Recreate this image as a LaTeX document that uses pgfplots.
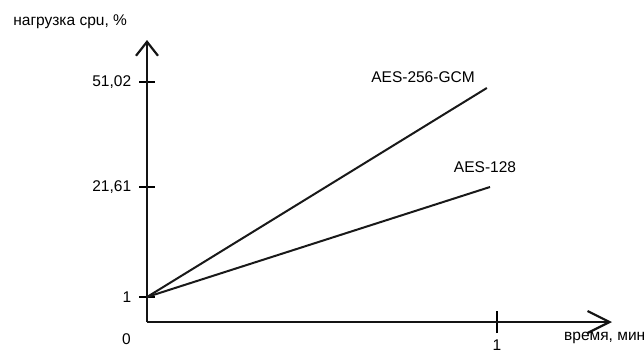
\documentclass[border=0pt]{standalone}
\usepackage{fontspec}
\setmainfont{Liberation Sans}
\usepackage{pgfplots}
\pgfplotsset{compat=1.18}
\usetikzlibrary{arrows.meta}
\begin{document}
\fontsize{15.5}{18}\selectfont
\begin{tikzpicture}
\useasboundingbox (-147pt,-32pt) rectangle (497pt,322pt);
\begin{axis}[
  at={(0,0)}, anchor=south west,
  scale only axis, width=465pt, height=282pt,
  xmin=0, xmax=1.3286, ymin=0, ymax=62.78,
  y coord trafo/.code={\pgfmathparse{ifthenelse(#1<=1, #1*25, ifthenelse(#1<=21.61, 25+(#1-1)*110/20.61, 135+(#1-21.61)*105/29.41))}},
  y coord inv trafo/.code={\pgfmathparse{ifthenelse(#1<=25, #1/25, ifthenelse(#1<=135, 1+(#1-25)*20.61/110, 21.61+(#1-135)*29.41/105))}},
  axis lines=left,
  x axis line style={line width=2.2pt, color=black!92, -{Straight Barb[length=22pt,width=22pt,line width=2.2pt]}},
  y axis line style={line width=2.2pt, color=black!92, -{Straight Barb[length=14pt,width=22pt,line width=2.2pt]}},
  ytick={1,21.61,51.02}, yticklabels={1,{21,61},{51,02}},
  xtick={1}, xticklabels={1},
  tick align=center, major tick length=15pt,
  tick style={line width=1.8pt, color=black},
  xtick style={/pgfplots/major tick length=22pt},
  xticklabel style={yshift=-9pt, inner ysep=1pt},
  yticklabel style={xshift=-3pt},
  /pgf/number format/assume math mode=true,
  clip=false,
]
\addplot[line width=2pt, color=black!90] coordinates {(0,1) (0.971,49.34)};
\addplot[line width=2pt, color=black!90] coordinates {(0,1) (0.98,21.61)};
\node[anchor=north east] at (axis cs:0,0) [xshift=-11pt, yshift=-6pt] {0};
\end{axis}
\node[anchor=west] at (-139pt,300pt) {нагрузка cpu, \%};
\node[anchor=west, inner sep=0pt] at (417pt,-16pt) {время, мин};
\node at (276pt,245pt) {AES-256-GCM};
\node at (338pt,155pt) {AES-128};
\end{tikzpicture}
\end{document}
